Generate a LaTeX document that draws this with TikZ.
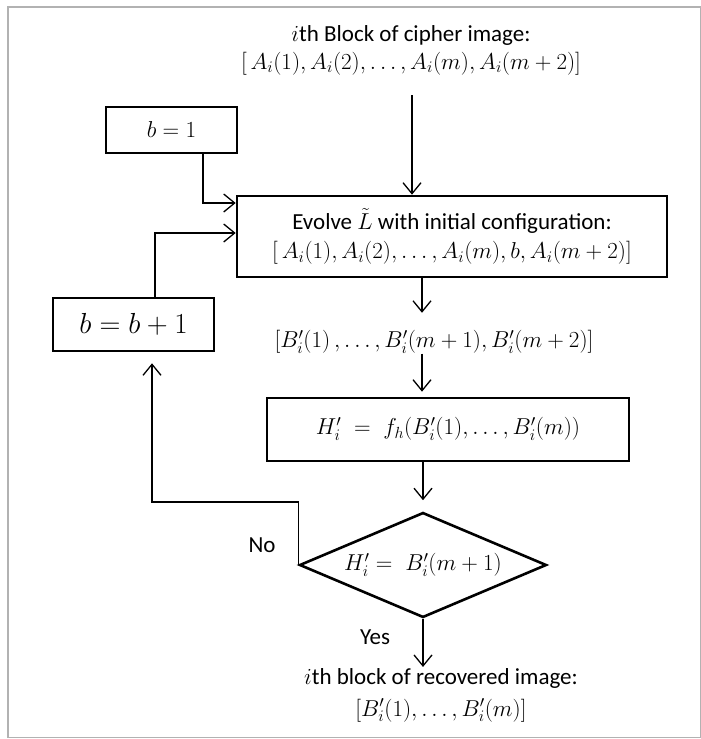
\RequirePackage{fix-cm}
\documentclass[tikz,border=0pt]{standalone}
\usepackage{fontspec}
\setmainfont{Carlito}
\usetikzlibrary{arrows.meta,shapes.geometric}
\tikzset{
  txt/.style={font=\fontsize{23}{28}\selectfont, inner sep=0pt, align=center},
  box/.style={draw, line width=2.6pt, inner sep=0pt, font=\fontsize{23}{29}\selectfont, align=center},
  conn/.style={line width=1.3pt, -{Straight Barb[length=11pt,width=18pt,line width=1.3pt]}},
}
\begin{document}
\begin{tikzpicture}[x=1pt,y=-1pt]
\useasboundingbox (0,0) rectangle (701,739);
\draw[gray!60, line width=1.2pt] (8,7) rectangle (700.4,737.5);
\node[txt] (title) at (411,50) {$i$th Block of cipher image:\\ $[\,A_i(1),A_i(2),\ldots,A_i(m),A_i(m+2)]$};
\node[box, minimum width=131pt, minimum height=46pt] (b1) at (171.5,130) {$b=1$};
\node[box, minimum width=430pt, minimum height=81pt] (evolve) at (452,236.5) {Evolve $\tilde{L}$ with initial configuration:\\ $[\,A_i(1),A_i(2),\ldots,A_i(m),b,A_i(m+2)]$};
\node[box, minimum width=161pt, minimum height=53pt, font=\fontsize{29}{34}\selectfont] (bb) at (133.5,324.5) {$b=b+1$};
\node[txt] (blist) at (434,342) {$[B'_i(1)\,,\ldots,B'_i(m+1),B'_i(m+2)]$};
\node[box, minimum width=362pt, minimum height=63pt] (hbox) at (448,429.5) {\raisebox{7pt}{$H'_i\;=\;f_h(B'_i(1),\ldots,B'_i(m))$}};
\node[diamond, draw, line width=2.6pt, minimum width=247pt, minimum height=105pt, inner sep=0pt, aspect=2.35, font=\fontsize{23}{28}\selectfont] (dia) at (423,565) {$H'_i=\;B'_i(m+1)$};
\node[txt] (no) at (262,545) {No};
\node[txt] (yes) at (375,637) {Yes};
\node[txt, font=\fontsize{23}{32}\selectfont] (res) at (441,695) {$i$th block of recovered image:\\ $[B'_i(1),\ldots,B'_i(m)]$};
\coordinate (top) at (412,95);
\coordinate (col) at (422,0);
\draw[conn] (top) -- (top |- evolve.north);
\draw[conn] ([xshift=31.5pt]b1.south) |- ([yshift=33.5pt]evolve.west);
\draw[conn] ([xshift=21.5pt]bb.north) |- ([yshift=3.5pt]evolve.west);
\draw[conn] (evolve.south -| col) -- ([yshift=17.5pt]blist.north -| col);
\draw[conn, shorten >=5pt] (blist.south -| col) -- (hbox.north -| col);
\draw[conn] (hbox.south -| dia) -- ([yshift=11pt]dia.north);
\draw[conn] (dia.south) -- ([yshift=1pt]res.north -| dia);
\draw[conn] (dia.west) -- ++(0,-63) -| ([xshift=18.5pt,yshift=-11pt]bb.south);
\end{tikzpicture}
\end{document}
